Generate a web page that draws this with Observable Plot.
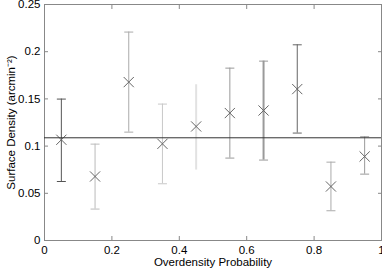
<!DOCTYPE html>
<html><head><meta charset="utf-8">
<script src="https://cdn.jsdelivr.net/npm/d3@7"></script>
<script src="https://cdn.jsdelivr.net/npm/@observablehq/plot@0.6"></script>
<style>body{margin:0;background:#fff}</style>
</head><body><div id="chart"></div>
<script>
const probability = [0.05, 0.15, 0.25, 0.35, 0.45, 0.55, 0.65, 0.75, 0.85, 0.95];
const density = [0.1067, 0.0678, 0.1678, 0.1024, 0.1208, 0.1350, 0.1377, 0.1604, 0.0572, 0.0890];
const upper = [0.1498, 0.1021, 0.2208, 0.1445, 0.1650, 0.1826, 0.1900, 0.2073, 0.0830, 0.1099];
const lower = [0.0625, 0.0333, 0.1148, 0.0601, 0.0746, 0.0873, 0.0852, 0.1138, 0.0315, 0.0703];
const meanDensity = [0.1088];
const xTicks = [0, 0.2, 0.4, 0.6, 0.8, 1];
const yTicks = [0, 0.05, 0.1, 0.15, 0.2, 0.25];
const xTitle = "Overdensity Probability";
const yTitle = "Surface Density (arcmin⁻²)";

const barShade = ["#555", "#bbb", "#aaa", "#c8c8c8", "#e2e2e2", "#999", "#9a9a9a", "#666", "#aaa", "#999"];
const barWidth = [1, 1, 1, 1, 2, 1, 2, 1, 1, 1];
const showCap = [1, 1, 1, 1, 0, 1, 1, 1, 1, 1];

const rows = probability.map((p, i) => ({p, d: density[i], hi: upper[i], lo: lower[i], c: barShade[i], w: barWidth[i], cap: showCap[i]}));
const capRows = rows.filter(r => r.cap);
const cap = {draw(ctx) { ctx.moveTo(-4.5, 0); ctx.lineTo(4.5, 0); }};
const font = "'Liberation Sans', Arial, Helvetica, sans-serif";

const plot = Plot.plot({
  width: 382, height: 269,
  marginLeft: 44, marginRight: 1, marginTop: 4, marginBottom: 29,
  style: {fontFamily: font, fontSize: "11.5px", color: "#000", background: "#fff"},
  x: {domain: [0, 1]},
  y: {domain: [0, 0.25]},
  marks: [
    Plot.frame({stroke: "#888"}),
    Plot.ruleX(rows, {x: "p", y1: "lo", y2: "hi", stroke: "c", strokeWidth: "w"}),
    Plot.dot(capRows, {x: "p", y: "hi", symbol: cap, r: 3, stroke: "c", strokeWidth: 1}),
    Plot.dot(capRows, {x: "p", y: "lo", symbol: cap, r: 3, stroke: "c", strokeWidth: 1}),
    Plot.dot(rows, {x: "p", y: "d", symbol: "times", r: 4.7, stroke: "#666", strokeWidth: 1}),
    Plot.ruleY(meanDensity, {stroke: "#333", strokeWidth: 1}),
    Plot.axisX({ticks: xTicks, tickSize: 0, tickPadding: 5, tickFormat: d => String(d), fill: "#000", label: null}),
    Plot.text([xTitle], {frameAnchor: "bottom", dy: 22, lineAnchor: "middle", fill: "#000", fontSize: 11.5}),
    Plot.axisX({ticks: xTicks, anchor: "bottom", tickSize: -4, tickFormat: () => "", stroke: "#888", label: null}),
    Plot.axisX({ticks: xTicks, anchor: "top", tickSize: -4, tickFormat: () => "", stroke: "#888", label: null}),
    Plot.axisY({ticks: yTicks, tickSize: 0, tickPadding: 4, tickFormat: d => String(d), fill: "#000",
      label: yTitle, labelAnchor: "center", labelArrow: "none", labelOffset: 38}),
    Plot.axisY({ticks: yTicks, anchor: "left", tickSize: -4, tickFormat: () => "", stroke: "#888", label: null}),
    Plot.axisY({ticks: yTicks, anchor: "right", tickSize: -4, tickFormat: () => "", stroke: "#888", label: null})
  ]
});
document.getElementById("chart").appendChild(plot);
</script>
</body></html>
